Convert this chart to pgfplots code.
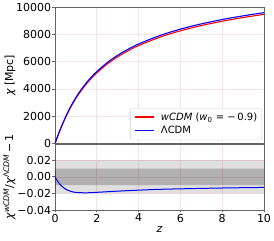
\documentclass[border=0pt]{standalone}
\usepackage{fontspec}
\setmainfont{DejaVu Sans}
\usepackage{pgfplots}
\pgfplotsset{compat=1.18}
\definecolor{spine}{RGB}{100,100,100}
\definecolor{gridc}{RGB}{250,225,232}
\definecolor{legbd}{RGB}{204,204,204}

\pgfplotstableread{
z     lcdm   wcdm
0     0      0
0.1   430    428
0.25  1034   1024
0.5   1933   1904
0.75  2708   2661
1     3374   3311
1.25  3950   3874
1.5   4450   4364
1.75  4888   4795
2     5276   5177
2.5   5932   5825
3     6466   6354
3.5   6912   6797
4     7290   7173
5     7902   7783
6     8379   8258
7     8764   8641
8     9082   8959
9     9353   9230
10    9585   9462
}\chidata

\pgfplotstableread{
z     r
0     0
0.05  -0.0023
0.125 -0.0054
0.25  -0.0095
0.5   -0.0148
0.75  -0.0175
1     -0.0188
1.5   -0.0193
2     -0.0187
3     -0.0173
4     -0.0161
5     -0.0151
6     -0.0145
8     -0.0135
10    -0.0128
}\ratiodata

\pgfplotsset{
  mystyle/.style={
    scale only axis, width=209pt, xmin=0, xmax=10,
    axis line style={spine, line width=0.8pt},
    tick style={spine, line width=0.8pt},
    major tick length=2.5pt,
    tick align=outside, xtick pos=bottom, ytick pos=left,
    grid=major, major grid style={gridc, line width=0.6pt},
    xtick={0,2,4,6,8,10},
    tick label style={font=\fontsize{11}{13}\selectfont, inner sep=1.2pt},
    label style={font=\fontsize{11}{13}\selectfont},
    /pgf/number format/assume math mode=true,
    scaled ticks=false,
  }
}

\begin{document}
\begin{tikzpicture}
\useasboundingbox (0,0) rectangle (274pt,241pt);
\begin{axis}[mystyle, name=top, at={(55pt,97.4pt)}, anchor=south west,
  height=136.6pt, ymin=0, ymax=10000,
  ytick={0,2000,4000,6000,8000,10000},
  yticklabels={0,2000,4000,6000,8000,10000},
  xticklabels={},
  ylabel={{\itshape χ} [Mpc]},
  ylabel style={at={(axis description cs:-0.2,0.5)}, anchor=base},
  legend cell align=left,
  legend style={at={(rel axis cs:0.99,0.025)}, anchor=south east,
    font=\fontsize{10}{12}\selectfont, draw=legbd, rounded corners=2pt,
    fill=white, inner sep=2.5pt, row sep=0.5pt, column sep=0pt},
  legend image code/.code={},
]
\addplot[red, line width=1.1pt, smooth] table[x=z, y=wcdm] {\chidata};
\addlegendentry{\textcolor{red}{\rule[0.3em]{19pt}{1.1pt}}\hspace{7pt}\textit{wCDM} (\textit{w}\textsubscript{0} = −\,0.9)}
\addplot[blue, line width=1.1pt, smooth] table[x=z, y=lcdm] {\chidata};
\addlegendentry{\textcolor{blue}{\rule[0.3em]{19pt}{1.1pt}}\hspace{7pt}ΛCDM}
\end{axis}

\begin{axis}[mystyle, name=bot, at={(55pt,31pt)}, anchor=south west,
  height=66.4pt, ymin=-0.04, ymax=0.04,
  ytick={-0.04,-0.02,0,0.02},
  yticklabels={−0.04,−0.02,0.00,0.02},
  xticklabels={0,2,4,6,8,10},
  xlabel={\itshape z},
  ylabel={{\itshape χ}\textsuperscript{\itshape wCDM}/{\itshape χ}\textsuperscript{Λ\itshape CDM}\,−\,1},
  ylabel style={at={(axis description cs:-0.2,0.5)}, anchor=base},
]
\addplot[draw=none, fill=black, fill opacity=0.12] coordinates {(0,-0.02) (10,-0.02) (10,0.02) (0,0.02)} \closedcycle;
\addplot[draw=none, fill=black, fill opacity=0.21] coordinates {(0,-0.01) (10,-0.01) (10,0.01) (0,0.01)} \closedcycle;
\addplot[blue, line width=1pt, smooth] table[x=z, y=r] {\ratiodata};
\draw[spine, line width=1.8pt] (rel axis cs:0,1) -- (rel axis cs:1,1);
\end{axis}
\end{tikzpicture}
\end{document}
